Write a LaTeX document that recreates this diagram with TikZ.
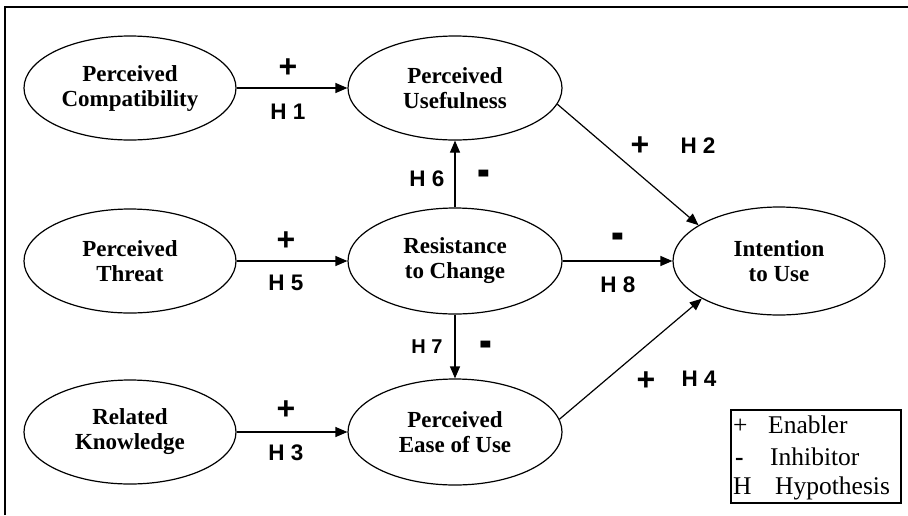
\documentclass[tikz,border=0pt]{standalone}
\usepackage{fontspec}
\usepackage{graphicx}
\setmainfont{Liberation Serif}
\newfontfamily\arialf{Liberation Sans}
\usetikzlibrary{shapes.geometric,arrows.meta}
\newcommand{\thickminus}{\scalebox{1.2}[1.8]{-}}
\begin{document}
\begin{tikzpicture}[x=1pt,y=-1pt,
 construct/.style={ellipse,draw,line width=1.2pt,inner sep=0pt,minimum width=212pt,minimum height=104pt,align=center,font=\fontsize{23}{25}\selectfont\bfseries},
 link/.style={line width=1.2pt,-{Triangle[length=12pt,width=10pt]}},
 hlab/.style={font=\arialf\fontsize{22.5}{22.5}\selectfont\bfseries,inner sep=0pt},
 sign/.style={font=\arialf\fontsize{32}{32}\selectfont\bfseries,inner sep=0pt},
 legtxt/.style={anchor=base west,inner sep=0pt,font=\fontsize{25.5}{25.5}\selectfont}]
\useasboundingbox (0,0) rectangle (908,515);
\draw[line width=1.5pt] (5,515) -- (5,7) -- (908,7);

% constructs
\node[construct] (compat) at (130,88) {Perceived\\Compatibility};
\node[construct] (threat) at (130,261) {Perceived\\Threat};
\node[construct] (know) at (130,432) {Related\\Knowledge};
\node[construct,minimum width=214pt] (useful) at (455,88) {Perceived\\Usefulness};
\node[construct,minimum width=214pt,minimum height=106pt] (res) at (455,261) {Resistance\\to Change};
\node[construct,minimum width=214pt,minimum height=106pt] (ease) at (455,432) {Perceived\\Ease of Use};
\node[construct,minimum height=108pt] (intent) at (779,261) {Intention\\to Use};

% connectors
\draw[link] (compat.east) -- (useful.west);
\draw[link] (threat.east) -- (res.west);
\draw[link] (know.east) -- (ease.west);
\draw[link] (res.north) -- (useful.south);
\draw[link] (res.south) -- (ease.north);
\draw[link] (res.east) -- (intent.west);
\draw[link] (useful.-9) -- (intent.156);
\draw[link] (ease.7) -- (intent.206);

% labels
\node[sign] (s1) at (288,68) {+};
\node[hlab] (h1) at (288,112) {H 1};
\node[sign] (s5) at (286,241) {+};
\node[hlab] (h5) at (286,283) {H 5};
\node[sign] (s3) at (286,410) {+};
\node[hlab] (h3) at (286,453) {H 3};
\node[hlab] (h6) at (427,179) {H 6};
\node[sign] (s6) at (484,179) {\thickminus};
\node[hlab,font=\arialf\fontsize{20}{20}\selectfont\bfseries] (h7) at (427,347) {H 7};
\node[sign] (s7) at (486,350) {\thickminus};
\node[sign] (s8) at (618,242) {\thickminus};
\node[hlab] (h8) at (618,285) {H 8};
\node[sign] (s2) at (640,146) {+};
\node[hlab] (h2) at (698,146) {H 2};
\node[sign] (s4) at (646,381) {+};
\node[hlab] (h4) at (699,379) {H 4};

% legend
\draw[line width=1.2pt] (731,410) rectangle (901,503);
\node[legtxt] (l1s) at (733,433) {+};
\node[legtxt] (l1) at (768,433) {Enabler};
\node[legtxt,font=\fontsize{25.5}{25.5}\selectfont\bfseries] (l2s) at (735,465) {-};
\node[legtxt] (l2) at (770,465) {Inhibitor};
\node[legtxt] (l3s) at (733,494) {H};
\node[legtxt] (l3) at (775,494) {Hypothesis};
\end{tikzpicture}
\end{document}
